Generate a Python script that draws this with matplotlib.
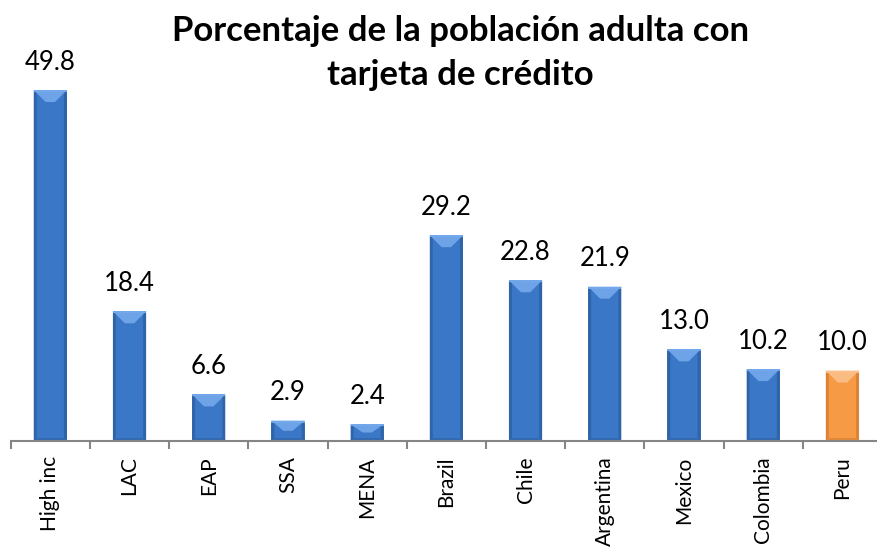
import matplotlib
matplotlib.use("Agg")
import matplotlib.pyplot as plt
from matplotlib.patches import Polygon, Rectangle
from matplotlib.ticker import FixedLocator

categories = ["High inc", "LAC", "EAP", "SSA", "MENA", "Brazil", "Chile",
              "Argentina", "Mexico", "Colombia", "Peru"]
values = [49.8, 18.4, 6.6, 2.9, 2.4, 29.2, 22.8, 21.9, 13.0, 10.2, 10.0]
highlight = "Peru"

plt.rcParams["font.family"] = ["Lato", "DejaVu Sans"]

# base, light bevel, dark edge
blue = ("#3a77c6", "#74a9ec", "#2b5c9e")
orange = ("#f79a45", "#fcc08a", "#d07a30")

fig = plt.figure(figsize=(8.78, 5.51), dpi=100)
ax = fig.add_axes([10.7 / 878, 110 / 551, 871.3 / 878, 380.6 / 551])

x = list(range(len(categories)))
width = 0.42
ax.set_xlim(-0.5, len(categories) - 0.5)
ax.set_ylim(0, 54)

# px -> data units
px_x = (len(categories)) / 871.3
px_y = 54 / 380.6

for xi, v, name in zip(x, values, categories):
    base, light, dark = orange if name == highlight else blue
    x0, x1 = xi - width / 2, xi + width / 2
    ax.add_patch(Rectangle((x0, 0), width, v, facecolor=base, edgecolor="none"))
    # darker side and bottom edges
    e = 3 * px_x
    eb = 3 * px_y
    ax.add_patch(Polygon([(x0, 0), (x0 + e, eb), (x0 + e, v - eb), (x0, v)],
                         facecolor=dark, edgecolor="none", alpha=0.7))
    ax.add_patch(Polygon([(x1, 0), (x1 - e, eb), (x1 - e, v - eb), (x1, v)],
                         facecolor=dark, edgecolor="none", alpha=0.7))
    ax.add_patch(Polygon([(x0, 0), (x1, 0), (x1 - e, eb), (x0 + e, eb)],
                         facecolor=dark, edgecolor="none", alpha=0.5))
    # light top bevel
    d = min(12 * px_y, v * 0.5)
    ax.add_patch(Polygon([(x0, v), (x1, v), (xi + width * 0.14, v - d),
                          (xi - width * 0.14, v - d)],
                         facecolor=light, edgecolor="none", alpha=0.9))
    ax.add_patch(Rectangle((x0, v - 2 * px_y), width, 2 * px_y,
                           facecolor=light, edgecolor="none", alpha=0.9))
    ax.annotate(f"{v:.1f}", (xi, v), xytext=(0, 11), textcoords="offset points",
                ha="center", va="bottom", fontsize=18.5, color="black")

for s in ["top", "right", "left"]:
    ax.spines[s].set_visible(False)
ax.spines["bottom"].set_color("#868686")
ax.spines["bottom"].set_linewidth(1.5)
ax.set_yticks([])

ax.set_xticks(x)
ax.set_xticklabels(categories, rotation=90, fontsize=15)
ax.tick_params(axis="x", which="major", length=0, pad=11)
ax.xaxis.set_minor_locator(FixedLocator([i - 0.5 for i in range(len(categories) + 1)]))
ax.tick_params(axis="x", which="minor", length=6, width=1.5, color="#868686")

fig.text(0.524, 0.972, "Porcentaje de la población adulta con\ntarjeta de crédito",
         ha="center", va="top", fontsize=25, fontweight="bold", linespacing=1.45)

fig.savefig("out.png", dpi=100)
